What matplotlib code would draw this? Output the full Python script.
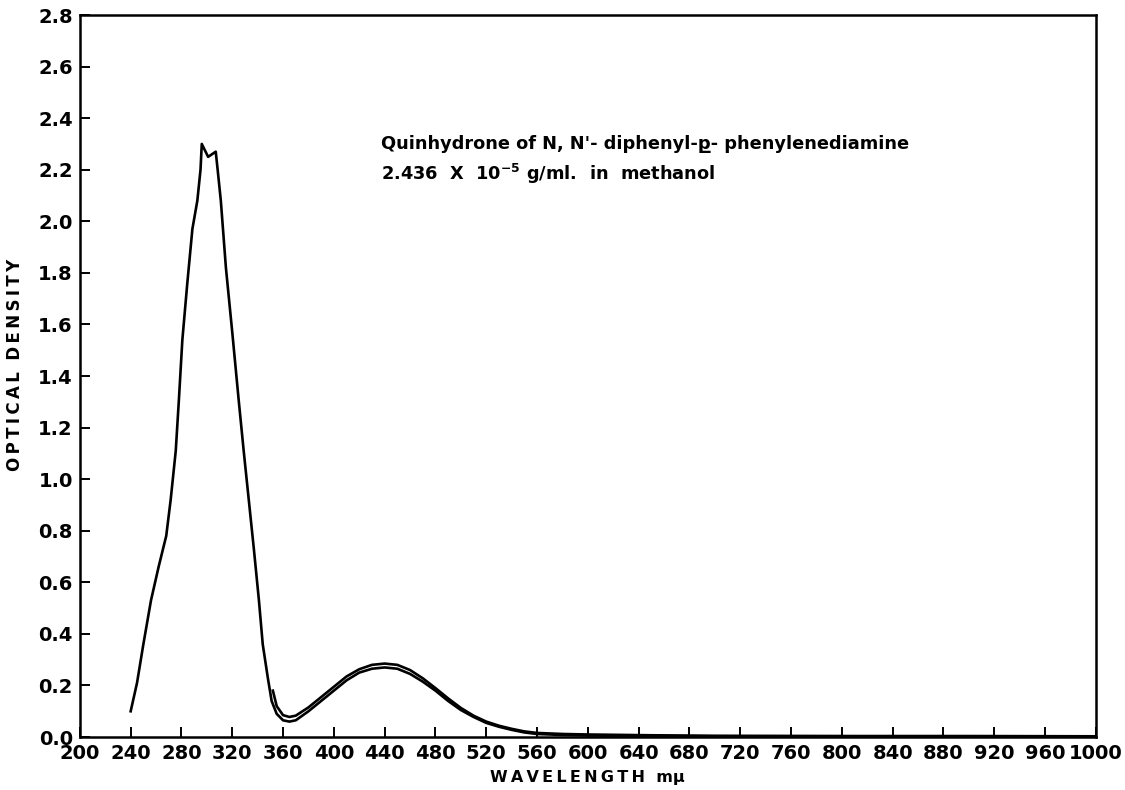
import matplotlib
matplotlib.use("Agg")
import matplotlib.pyplot as plt
import numpy as np

# Trace A: full scan from 240 mμ
wl_a = [240, 245, 250, 256, 262, 268, 271.5, 275.5, 278, 280.7, 284.6, 288.6, 292.5, 295,
        296, 299, 301, 304, 307, 308.5, 311, 315, 320, 325, 329, 333, 337, 341,
        344, 348, 351, 355, 360, 365, 370, 380, 390, 400, 410, 420, 430, 440,
        450, 460, 470, 480, 490, 500, 510, 520, 530, 540, 550, 560, 580, 600,
        650, 700, 800, 900, 1000]
od_a = [0.10, 0.21, 0.36, 0.53, 0.66, 0.78, 0.92, 1.11, 1.31, 1.54, 1.76, 1.97, 2.08, 2.20,
        2.30, 2.27, 2.25, 2.26, 2.27, 2.20, 2.08, 1.82, 1.57, 1.31, 1.11, 0.92, 0.73, 0.53,
        0.36, 0.23, 0.14, 0.09, 0.065, 0.06, 0.065, 0.10, 0.14, 0.18, 0.22, 0.25, 0.265, 0.27,
        0.265, 0.245, 0.215, 0.18, 0.14, 0.105, 0.078, 0.055, 0.04, 0.028, 0.018, 0.012, 0.008, 0.006,
        0.004, 0.003, 0.003, 0.002, 0.002]

# Trace B: repeat scan from 352 mμ
wl_b = [352, 355, 360, 365, 370, 380, 390, 400, 410, 420, 430, 440, 450, 460, 470,
        480, 490, 500, 510, 520, 530, 540, 550, 560, 580, 600, 650, 700, 800, 900, 1000]
od_b = [0.18, 0.12, 0.085, 0.078, 0.083, 0.115, 0.155, 0.195, 0.235, 0.263, 0.28, 0.285,
        0.28, 0.26, 0.228, 0.19, 0.15, 0.113, 0.083, 0.06, 0.044, 0.032, 0.022, 0.016,
        0.012, 0.010, 0.007, 0.005, 0.004, 0.004, 0.003]

x_ticks = list(range(200, 1001, 40))
y_ticks = [round(0.2 * i, 1) for i in range(15)]

title_line1 = "Quinhydrone of N, N'- diphenyl-p\u0332- phenylenediamine"
title_line2 = r"2.436  X  10$^{-5}$ g/ml.  in  methanol"
x_label = "\u2009".join("WAVELENGTH") + "  m\u03bc"
y_label = "\u2009".join("OPTICAL") + "  " + "\u2009".join("DENSITY")

plt.rcParams['font.family'] = ['DejaVu Sans']
plt.rcParams['font.weight'] = 'bold'
plt.rcParams['mathtext.default'] = 'bf'

fig = plt.figure(figsize=(11.25, 7.9), dpi=100)
ax = fig.add_axes([0.071, 0.067, 0.903, 0.914])

ax.plot(wl_a, od_a, color='black', lw=1.9, solid_joinstyle='round')
ax.plot(wl_b, od_b, color='black', lw=1.9, solid_joinstyle='round')

ax.set_xlim(200, 1000)
ax.set_ylim(0, 2.8)
ax.set_xticks(x_ticks)
ax.set_xticklabels([str(t) for t in x_ticks])
ax.set_yticks(y_ticks)
ax.set_yticklabels([f"{t:.1f}" for t in y_ticks])
ax.tick_params(direction='in', length=7, width=1.4, labelsize=14, pad=5)
for lab in ax.get_xticklabels() + ax.get_yticklabels():
    lab.set_fontweight('bold')
for s in ax.spines.values():
    s.set_linewidth(1.8)

ax.set_xlabel(x_label, fontsize=11.5, fontweight='bold')
ax.xaxis.set_label_coords(0.5, -0.045)
ax.set_ylabel(y_label, fontsize=12, fontweight='bold')
ax.yaxis.set_label_coords(-0.055, 0.515)

ax.text(437, 2.30, title_line1, fontsize=12.8, fontweight='bold', va='center', ha='left')
ax.text(437, 2.185, title_line2, fontsize=12.8, fontweight='bold', va='center', ha='left')

fig.savefig("out.png", dpi=100)
